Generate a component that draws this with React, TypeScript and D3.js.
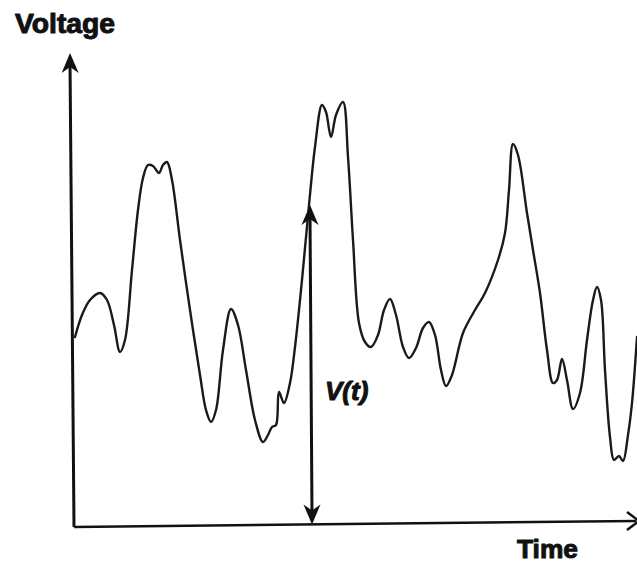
import * as d3 from "d3";

// signal samples (time units, voltage units)
const time = [
  1, 8, 16, 26, 33, 40, 46, 51, 58, 64, 69, 74, 79, 85, 89, 93, 98, 106, 116, 126,
  132, 137, 142, 149, 157, 164, 172, 181, 189, 194, 198, 202, 205, 210, 216, 221, 228, 235, 241, 248,
  252, 257, 262, 269, 274, 279, 285, 291, 297, 304, 310, 316, 322, 329, 335, 342, 349, 355, 361, 367,
  372, 378, 389, 401, 411, 424, 431, 435, 439, 444, 453, 459, 466, 473, 479, 483, 488, 493, 499, 506,
  513, 519, 523, 527, 531, 536, 540, 545, 549, 554, 558, 563,
];
const voltage = [
  190, 212, 227, 234, 227, 202, 175, 187, 257, 317, 349, 362, 361, 354, 362, 365, 347, 287, 217, 152,
  117, 105, 117, 177, 218, 202, 157, 107, 85, 92, 100, 102, 135, 124, 144, 180, 247, 322, 380, 422,
  415, 390, 412, 425, 370, 287, 204, 185, 180, 192, 217, 228, 212, 180, 169, 179, 199, 205, 192, 157,
  141, 152, 194, 217, 234, 267, 294, 337, 383, 372, 314, 277, 234, 177, 144, 147, 168, 147, 118, 134,
  187, 227, 240, 227, 157, 90, 67, 71, 66, 92, 124, 190,
];

// the instant marked with V(t)
const markTime = 236;
const markVoltage = 322;

const axisLabels = { y: "Voltage", x: "Time", mark: "V(t)" };

const width = 637;
const height = 574;

const x = d3.scaleLinear().domain([0, 563]).range([74, 637]);
const y = d3.scaleLinear().domain([0, 470]).range([527, 57]);

// baseline drifts up a little toward the right, like the scan
const baseY = (px: number) => 527 - ((px - 74) / (637 - 74)) * 6;

function arrowHead(tx: number, ty: number, angle: number, len = 20, half = 8.5, notch = 6) {
  const ux = Math.cos(angle), uy = Math.sin(angle);
  const px = -uy, py = ux;
  const bx = tx - ux * len, by = ty - uy * len;
  const nx = tx - ux * (len - notch), ny = ty - uy * (len - notch);
  return `M${tx},${ty}L${bx + px * half},${by + py * half}L${nx},${ny}L${bx - px * half},${by - py * half}Z`;
}

const labelFont = "Liberation Sans, Arial, sans-serif";

export default function App() {
  const points = time.map((t, i) => [t, voltage[i]] as [number, number]);
  const line = d3.line<[number, number]>()
    .x(d => x(d[0]))
    .y(d => y(d[1]))
    .curve(d3.curveCatmullRom.alpha(0.5));

  const mx = x(markTime);
  const my = y(markVoltage);
  const mb = baseY(mx);

  return (
    <svg width={width} height={height}
      style={{ position: "absolute", left: 0, top: 0, background: "#fff" }}>
      {/* axes */}
      <line x1={74} y1={527} x2={70} y2={62} stroke="#111" strokeWidth={3} />
      <path d={arrowHead(70, 53, -Math.PI / 2 - 0.008)} fill="#111" />
      <line x1={74} y1={527} x2={636} y2={521} stroke="#111" strokeWidth={2.5} />
      <path d={`M627,512L639,521L627,530`} fill="none" stroke="#111" strokeWidth={2.5} />

      {/* signal */}
      <path d={line(points) ?? ""} fill="none" stroke="#1a1a1a" strokeWidth={2.4}
        strokeLinejoin="round" strokeLinecap="round" />

      {/* V(t) marker */}
      <line x1={mx} y1={my + 10} x2={mx + 2} y2={mb - 10} stroke="#111" strokeWidth={3} />
      <path d={arrowHead(mx, my, -Math.PI / 2)} fill="#111" />
      <path d={arrowHead(mx + 2, mb, Math.PI / 2)} fill="#111" />

      <g fontFamily={labelFont} fontWeight="bold" fill="#111" stroke="#111" strokeWidth={1}
        strokeLinejoin="round">
        <text x={15} y={33} fontSize={27} textLength={100} lengthAdjust="spacingAndGlyphs">{axisLabels.y}</text>
        <text x={517} y={558} fontSize={26} textLength={61} lengthAdjust="spacingAndGlyphs">{axisLabels.x}</text>
        <text x={325} y={400} fontSize={26} fontStyle="italic">{axisLabels.mark}</text>
      </g>
    </svg>
  );
}
